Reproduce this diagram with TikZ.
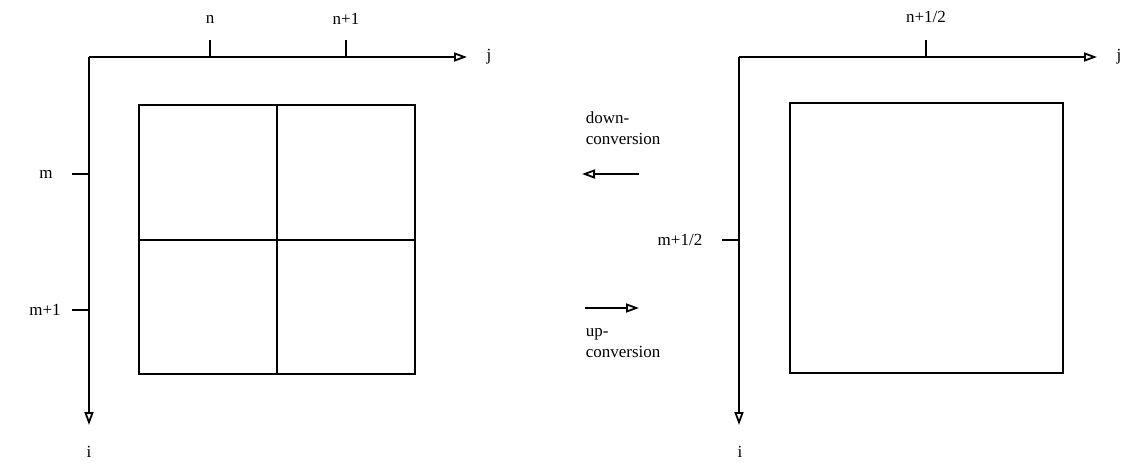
\documentclass[tikz,border=0pt]{standalone}
\usepackage{fontspec}
\setmainfont{Liberation Serif}
\usetikzlibrary{arrows.meta}
\begin{document}
\begin{tikzpicture}[x=1pt,y=-1pt,
  line width=1.6pt,
  axis/.style={-{Triangle[open,length=13pt,width=9pt,line width=1.8pt]}},
  conv/.style={-{Triangle[open,length=13pt,width=9pt,line width=1.8pt]}},
  lbl/.style={font=\fontsize{17}{20}\selectfont, inner sep=0pt},
  txt/.style={font=\fontsize{17}{21}\selectfont, inner sep=0pt, align=left, anchor=west}]
\useasboundingbox (0,0) rectangle (1144,466);

% ---- left grid: four cells ----
\coordinate (lo) at (89,57);
\coordinate (ljx) at (467,57);
\coordinate (liy) at (89,425);
\draw[axis] (lo) -- (ljx);
\draw[axis] (lo) -- (liy);
\node[lbl] (lj) at (489,57) {j};
\node[lbl] (li) at (89,452) {i};
\draw (139,105) rectangle (415,374);
\draw (277,105) -- (277,374);
\draw (139,240) -- (415,240);
% column ticks
\coordinate (tn) at (210,57);
\coordinate (tn1) at (346,57);
\draw (tn) -- ++(0,-17);
\draw (tn1) -- ++(0,-17);
\node[lbl] (ln) at (210,19) {n};
\node[lbl] (ln1) at (346,19) {n+1};
% row ticks
\coordinate (tm) at (89,174);
\coordinate (tm1) at (89,310);
\draw (tm) -- ++(-17,0);
\draw (tm1) -- ++(-17,0);
\node[lbl] (lm) at (46,174) {m};
\node[lbl] (lm1) at (45,310) {m+1};

% ---- right grid: one cell ----
\coordinate (ro) at (739,57);
\coordinate (rjx) at (1097,57);
\coordinate (riy) at (739,425);
\draw[axis] (ro) -- (rjx);
\draw[axis] (ro) -- (riy);
\node[lbl] (rj) at (1119,57) {j};
\node[lbl] (ri) at (740,452) {i};
\draw (790,103) rectangle (1063,373);
\coordinate (tnh) at (926,57);
\draw (tnh) -- ++(0,-17);
\node[lbl] (lnh) at (926,17) {n+1/2};
\coordinate (tmh) at (739,240);
\draw (tmh) -- ++(-17,0);
\node[lbl] (lmh) at (680,240) {m+1/2};

% ---- conversion arrows ----
\coordinate (da) at (639,174);
\coordinate (db) at (582,174);
\draw[conv] (da) -- (db);
\node[txt] (dtxt) at (585,128) {down-\\conversion};
\coordinate (ua) at (585,308);
\coordinate (ub) at (639,308);
\draw[conv] (ua) -- (ub);
\node[txt] (utxt) at (585,343) {up-\\conversion};
\end{tikzpicture}
\end{document}
